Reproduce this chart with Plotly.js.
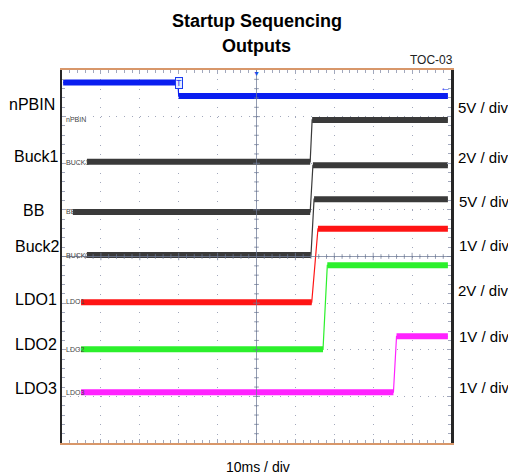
<!DOCTYPE html>
<html>
<head>
<meta charset="utf-8">
<script src="https://cdn.plot.ly/plotly-3.0.1.min.js"></script>
<style>
  html, body { margin: 0; padding: 0; background: #fff; }
  #chart { width: 508px; height: 476px; }
</style>
</head>
<body>
<div id="chart"></div>
<script>
// scope screen: 10 div of 10 ms across, 8 div up
const xRange = [-50, 50];
const yRange = [-4, 4];

const channels = ['nPBIN', 'Buck1', 'BB', 'Buck2', 'LDO1', 'LDO2', 'LDO3'];
const screenTags = ['nPBIN', 'BUCK1', 'BB', 'BUCK2', 'LDO1', 'LDO2', 'LDO3'];
const voltsPerDiv = [5, 2, 5, 1, 2, 1, 1];

// corner points of each trace: time in ms from trigger, volts above its ground
const tNPBIN = [-49.7, -20.2, -20.0, 49.2];
const vNPBIN = [1.45, 1.45, 0, 0];
const tBuck1 = [-43.6, 13.8, 14.3, 49.2];
const vBuck1 = [0, 0, 1.8, 1.8];
const tBB = [-47.2, 13.8, 14.5, 49.2];
const vBB = [0, 0, 5.0, 5.0];
const tBuck2 = [-43.6, 14.0, 14.8, 49.2];
const vBuck2 = [0, 0, 1.2, 1.2];
const tLDO1 = [-45.1, 14.2, 15.8, 49.2];
const vLDO1 = [0, 0, 3.15, 3.15];
const tLDO2 = [-45.1, 17.1, 18.2, 49.2];
const vLDO2 = [0, 0, 1.8, 1.8];
const tLDO3 = [-45.1, 35.2, 36.0, 49.2];
const vLDO3 = [0, 0, 1.2, 1.2];

const times = [tNPBIN, tBuck1, tBB, tBuck2, tLDO1, tLDO2, tLDO3];
const volts = [vNPBIN, vBuck1, vBB, vBuck2, vLDO1, vLDO2, vLDO3];

// where each channel's ground sits on the screen (in divisions) and its colour
const groundDiv = [3.44, 2.03, 0.955, 0.03, -0.98, -1.99, -2.91];
const colors = ['#0a1ef0', '#3a3a3a', '#3a3a3a', '#3a3a3a', '#ff1414', '#2cf02c', '#ff22ff'];

const arial = '"Liberation Sans", Arial, sans-serif';

// pixel -> paper helpers (plot area is 62..451 x 70..443)
const px = x => (x - 62) / 389;
const py = y => (443 - y) / 373;

const traces = [];
channels.forEach((name, i) => {
    const t = times[i];
    const y = volts[i].map(v => groundDiv[i] + v / voltsPerDiv[i]);
    // thin edge
    traces.push({
        x: t, y: y, mode: 'lines', type: 'scatter', hoverinfo: 'skip',
        line: {color: colors[i], width: 1.2}
    });
    // thick flat parts
    traces.push({
        x: [t[0], t[1], null, t[2], t[3]],
        y: [y[0], y[1], null, y[2], y[3]],
        mode: 'lines', type: 'scatter', name: name, hoverinfo: 'skip',
        line: {color: colors[i], width: 6}
    });
});

// left names, right scales, small tags on the screen
const leftX = [31.5, 36.5, 33, 37, 36, 36, 36];
const leftY = [105, 156, 210, 246, 299, 344, 388];
const rightX = [456, 456, 456.5, 457, 456, 457, 457];
const rightY = [108, 157, 201, 245, 290, 336, 387];
const tagY = [119, 162, 211, 255, 301, 349, 392];

const annotations = [
    {text: '<b>Startup Sequencing</b>', x: px(256.5), y: py(21), font: {family: arial, size: 18, color: '#000'}},
    {text: '<b>Outputs</b>', x: px(256.5), y: py(46), font: {family: arial, size: 18, color: '#000'}},
    {text: 'TOC-03', x: px(431.5), y: py(59.5), font: {family: arial, size: 12, color: '#222'}},
    {text: '10ms / div', x: px(257.5), y: py(467), font: {family: arial, size: 14, color: '#000'}},
    {text: 'T', x: -19.9, xref: 'x', y: py(83), font: {family: arial, size: 9, color: '#1a3cf0'},
     bgcolor: '#e4ebff', bordercolor: '#1a3cf0', borderwidth: 1, borderpad: 0},
    {text: '\u25BC', x: 0, xref: 'x', y: py(73), font: {family: arial, size: 7, color: '#1a50e8'}},
    {text: '\u2190', x: px(445), y: py(87), font: {family: arial, size: 11, color: '#1a3cf0'}}
];
channels.forEach((name, i) => {
    annotations.push({text: name, x: px(leftX[i]), y: py(leftY[i]),
        font: {family: arial, size: 16, color: '#000'}});
    annotations.push({text: voltsPerDiv[i] + 'V / div', x: px(rightX[i]), y: py(rightY[i]), xanchor: 'left',
        font: {family: arial, size: 15, color: '#000'}});
    annotations.push({text: screenTags[i], x: px(63.5), y: py(tagY[i]), xanchor: 'left',
        font: {family: arial, size: 7, color: '#444'}});
});
annotations.forEach(a => {
    if (!a.xref) a.xref = 'paper';
    a.yref = 'paper';
    a.showarrow = false;
    if (!a.xanchor) a.xanchor = 'center';
    a.yanchor = 'middle';
});

// centre cross with its small ticks
const crossColor = 'rgba(110,122,150,0.75)';
const shapes = [
    {type: 'line', xref: 'x', yref: 'paper', x0: 0, x1: 0, y0: 0, y1: 1, line: {color: crossColor, width: 1}},
    {type: 'line', xref: 'paper', yref: 'y', x0: 0, x1: 1, y0: 0, y1: 0, line: {color: crossColor, width: 1}}
];
for (let k = -19; k <= 19; k++) {
    if (k === 0) continue;
    const len = k % 5 === 0 ? 0.9 : 0.6;
    shapes.push({type: 'line', xref: 'x', yref: 'y', x0: -len, x1: len, y0: k * 0.2, y1: k * 0.2,
        line: {color: crossColor, width: 1}});
}
for (let k = -24; k <= 24; k++) {
    if (k === 0) continue;
    const len = k % 5 === 0 ? 0.08 : 0.05;
    shapes.push({type: 'line', xref: 'x', yref: 'y', x0: k * 2, x1: k * 2, y0: -len, y1: len,
        line: {color: crossColor, width: 1}});
}

const dotColor = '#a2a8bc';
const layout = {
    width: 508, height: 476,
    margin: {l: 62, r: 57, t: 70, b: 33, pad: 0},
    paper_bgcolor: '#fff', plot_bgcolor: '#fff',
    showlegend: false,
    xaxis: {
        range: xRange, tick0: 0, dtick: 10, showticklabels: false,
        ticks: 'inside', ticklen: 4, tickcolor: dotColor,
        showgrid: true, gridcolor: dotColor, gridwidth: 1, griddash: '1px,8.325px',
        zeroline: false, showline: true, linecolor: '#d8976a', linewidth: 2, mirror: 'allticks',
        minor: {dtick: 2, ticks: 'inside', ticklen: 3, tickcolor: dotColor, showgrid: false},
        fixedrange: true
    },
    yaxis: {
        range: yRange, tick0: 0, dtick: 1, showticklabels: false,
        ticks: 'inside', ticklen: 4, tickcolor: dotColor,
        showgrid: true, gridcolor: dotColor, gridwidth: 1, griddash: '1px,6.78px',
        zeroline: false, showline: true, linecolor: '#262626', linewidth: 2.5, mirror: 'allticks',
        minor: {dtick: 0.2, ticks: 'inside', ticklen: 3, tickcolor: dotColor, showgrid: false},
        fixedrange: true
    },
    shapes: shapes,
    annotations: annotations
};

Plotly.newPlot('chart', traces, layout, {displayModeBar: false, staticPlot: true});
</script>
</body>
</html>
